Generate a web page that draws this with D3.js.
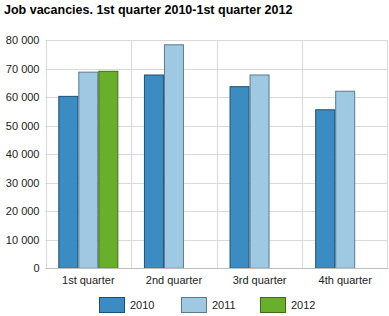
<!DOCTYPE html>
<html><head><meta charset="utf-8">
<script src="https://cdn.jsdelivr.net/npm/d3@7"></script>
<style>body{margin:0;background:#fff;} svg, svg text{font-family:'Liberation Sans', Arial, sans-serif;}</style>
</head><body>
<script>
const categories = ["1st quarter","2nd quarter","3rd quarter","4th quarter"];
const seriesNames = ["2010","2011","2012"];
const values2010 = [60500, 68000, 63900, 55800];
const values2011 = [69000, 78600, 68000, 62300];
const values2012 = [69300, null, null, null];
const yTicks = [0,10000,20000,30000,40000,50000,60000,70000,80000];
const colors = ["#3a8cc2","#9fc8e2","#6aaf2c"];
const strokes = ["#1f4f70","#5a7a8e","#3f6b1a"];

const W=389,H=316;
const m={left:45.5,right:1,top:40.3,bottom:47.7};
const svg=d3.select("body").append("svg").attr("width",W).attr("height",H);
svg.append("text").attr("x",4).attr("y",14).attr("font-size","12.5px").attr("font-weight","bold").attr("fill","#000").text("Job vacancies. 1st quarter 2010-1st quarter 2012");

const x=d3.scaleBand().domain(categories).range([m.left,W-m.right]).paddingInner(0).paddingOuter(0);
const y=d3.scaleLinear().domain([0,80000]).range([H-m.bottom,m.top]);
const x1=d3.scaleBand().domain(seriesNames).range([0,x.bandwidth()]).paddingOuter(0.64).paddingInner(0);

const fmt=d=>d3.format(",")(d).replace(/,/g," ");
const g=svg.append("g");
g.selectAll("line.h").data(yTicks.slice(1)).enter().append("line")
 .attr("x1",m.left).attr("x2",W-m.right).attr("y1",d=>Math.round(y(d))+0.5).attr("y2",d=>Math.round(y(d))+0.5)
 .attr("stroke","#d9d9d9");
g.selectAll("line.v").data(categories).enter().append("line")
 .attr("x1",d=>Math.round(x(d))+0.5).attr("x2",d=>Math.round(x(d))+0.5).attr("y1",m.top).attr("y2",H-m.bottom)
 .attr("stroke","#d9d9d9");
g.append("line").attr("x1",Math.round(W-m.right)-0.5).attr("x2",Math.round(W-m.right)-0.5).attr("y1",m.top).attr("y2",H-m.bottom).attr("stroke","#d9d9d9");

const ya=svg.append("g").attr("transform",`translate(${m.left},0)`).call(d3.axisLeft(y).tickValues(yTicks).tickFormat(fmt).tickSize(0).tickPadding(6));
ya.select(".domain").remove();
ya.selectAll("text").attr("font-size","11px").attr("font-family",null).attr("fill","#222");

const series=[values2010,values2011,values2012];
series.forEach((vals,si)=>{
  svg.append("g").selectAll("rect").data(categories.map((c,i)=>({c,v:vals[i]})).filter(d=>d.v!=null)).enter().append("rect")
   .attr("x",d=>x(d.c)+x1(seriesNames[si])+0.5)
   .attr("y",d=>y(d.v)+0.5)
   .attr("width",x1.bandwidth()-1)
   .attr("height",d=>y(0)-y(d.v)-0.5)
   .attr("fill",colors[si]).attr("stroke",strokes[si]).attr("stroke-width",1);
});

svg.append("line").attr("x1",m.left).attr("x2",W-m.right).attr("y1",Math.round(y(0))+0.5).attr("y2",Math.round(y(0))+0.5).attr("stroke","#bfbfbf");

const xa=svg.append("g").attr("transform",`translate(0,${y(0)})`).call(d3.axisBottom(x).tickSize(0).tickPadding(8));
xa.select(".domain").remove();
xa.attr("font-family",null);
xa.selectAll("text").attr("font-size","11px").attr("fill","#222");
ya.attr("font-family",null);

const legX=[99,181,260];
const lg=svg.append("g");
seriesNames.forEach((s,i)=>{
  lg.append("rect").attr("x",legX[i]+0.5).attr("y",297.5).attr("width",25).attr("height",15).attr("fill",colors[i]).attr("stroke",strokes[i]);
  lg.append("text").attr("x",legX[i]+31).attr("y",309).attr("font-size","11px").attr("fill","#222").text(s);
});
</script>
</body></html>
